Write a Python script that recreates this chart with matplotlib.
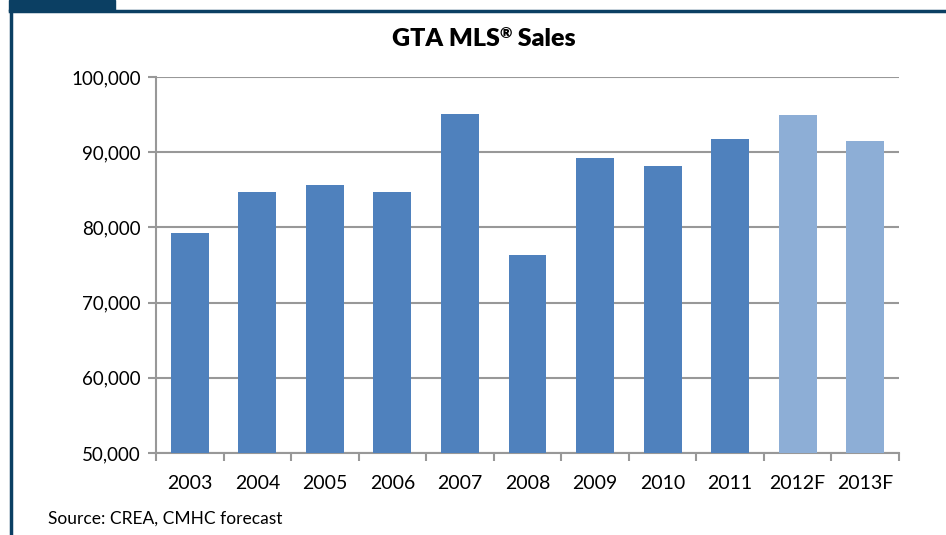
import matplotlib
matplotlib.use('Agg')
import matplotlib.pyplot as plt
from matplotlib.patches import Rectangle
from matplotlib.lines import Line2D
from matplotlib.ticker import FuncFormatter, FixedLocator
import numpy as np

years = ['2003', '2004', '2005', '2006', '2007', '2008', '2009', '2010', '2011', '2012F', '2013F']
sales = [79300, 84700, 85600, 84700, 95100, 76300, 89200, 88200, 91800, 94900, 91500]
forecast = [False] * 9 + [True, True]

plt.rcParams['font.family'] = ['Lato', 'DejaVu Sans']

fig = plt.figure(figsize=(9.46, 5.35), dpi=100)
ax = fig.add_axes([156 / 946, 1 - 453 / 535, (899 - 156) / 946, (453 - 77) / 535])

x = np.arange(len(years))
colors = ['#8DAED6' if f else '#4F81BD' for f in forecast]
ax.bar(x, sales, width=0.56, color=colors, zorder=3)

ax.set_ylim(50000, 100000)
ax.set_xlim(-0.5, len(years) - 0.5)
ax.set_yticks(np.arange(50000, 100001, 10000))
ax.yaxis.set_major_formatter(FuncFormatter(lambda v, p: f'{int(v):,}'))
ax.grid(axis='y', color='#989898', linewidth=1.5, zorder=0)

ax.set_xticks(x)
ax.set_xticklabels(years, fontsize=14)
ax.tick_params(axis='x', length=0, pad=16)
ax.xaxis.set_minor_locator(FixedLocator(np.arange(-0.5, len(years), 1)))
ax.tick_params(axis='x', which='minor', length=6, width=1.5, color='#989898')
ax.tick_params(axis='y', labelsize=13.5, length=6, width=1.5, color='#989898', pad=5)

for side in ['top', 'right']:
    ax.spines[side].set_visible(False)
for side in ['left', 'bottom']:
    ax.spines[side].set_color('#989898')
    ax.spines[side].set_linewidth(1.5)

# title in pieces so the ® sits as a superscript
renderer = fig.canvas.get_renderer()
base_y = 1 - 46 / 535
parts = [('GTA MLS', 18, 0), ('®', 11, 8 / 535), (' Sales', 18, 0)]
texts = []
cur = 0
for s, size, dy in parts:
    t = fig.text(cur, base_y + dy, s, ha='left', va='baseline', fontsize=size, fontweight='heavy')
    w = t.get_window_extent(renderer).width / 946
    texts.append((t, cur))
    cur += w
shift = 484 / 946 - cur / 2
for t, x0 in texts:
    t.set_x(x0 + shift)

fig.text(48 / 946, 1 - 519 / 535, 'Source: CREA, CMHC forecast', ha='left', va='center',
         fontsize=12.5)

# page frame
navy = '#0B3F63'
fig.add_artist(Line2D([10 / 946, 1], [1 - 11 / 535, 1 - 11 / 535], color=navy, linewidth=2.5,
                      transform=fig.transFigure))
fig.add_artist(Line2D([11 / 946, 11 / 946], [0, 1 - 11 / 535], color=navy, linewidth=2.5,
                      transform=fig.transFigure))
fig.add_artist(Rectangle((9 / 946, 1 - 11 / 535), (115 - 9) / 946, 11 / 535, color=navy,
                         transform=fig.transFigure))

fig.savefig('out.png', dpi=100)
